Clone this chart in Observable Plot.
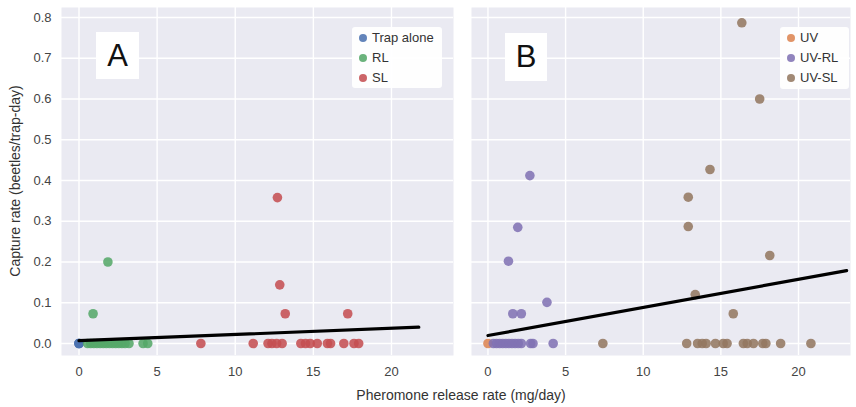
<!DOCTYPE html>
<html>
<head>
<meta charset="utf-8">
<script src="https://cdn.jsdelivr.net/npm/d3@7"></script>
<script src="https://cdn.jsdelivr.net/npm/@observablehq/plot@0.6"></script>
<style>
  body { margin: 0; background: #fff; font-family: "Liberation Sans", Arial, sans-serif; }
  #fig { position: relative; width: 856px; height: 407px; overflow: hidden; background: #fff; }
  .panel { position: absolute; top: 0; }
  .letter { position: absolute; background: #fff; font-size: 31px; color: #111;
            display: flex; align-items: center; justify-content: center; }
  .legend { position: absolute; background: rgba(255,255,255,0.92); border-radius: 3px;
            font-size: 13px; color: #333; }
  .legend .row { position: absolute; left: 0; height: 16px; line-height: 16px; white-space: nowrap; }
  .legend .dot { position: absolute; left: 7px; top: 4px; width: 8px; height: 8px; border-radius: 50%; }
  .legend .lab { position: absolute; left: 20px; top: 0; }
  .axlabel { position: absolute; font-size: 14px; color: #333; white-space: nowrap; }
</style>
</head>
<body>
<div id="fig"></div>
<script>
// ---------- data ----------
const xTicks = [0, 5, 10, 15, 20];
const yTicks = [0, 0.1, 0.2, 0.3, 0.4, 0.5, 0.6, 0.7, 0.8];
const yLabel = "Capture rate (beetles/trap-day)";
const xLabel = "Pheromone release rate (mg/day)";

// Panel A
const seriesA = ["Trap alone", "RL", "SL"];
const colorsA = ["#4C72B0", "#55A868", "#C44E52"];
const trapX = [0, 0, 0];
const trapY = [0, 0, 0];
const rlX = [0.55, 0.75, 0.95, 1.15, 1.35, 1.55, 1.75, 1.95, 2.15, 2.35, 2.55, 2.75, 2.95, 3.2, 4.1, 4.4, 0.9, 1.85];
const rlY = [0, 0, 0, 0, 0, 0, 0, 0, 0, 0, 0, 0, 0, 0, 0, 0, 0.073, 0.2];
const slX = [7.8, 11.15, 12.1, 12.35, 12.65, 13.0, 14.2, 14.5, 14.8, 15.25, 15.9, 16.1, 16.95, 17.6, 17.9, 12.7, 12.85, 13.2, 17.2];
const slY = [0, 0, 0, 0, 0, 0, 0, 0, 0, 0, 0, 0, 0, 0, 0, 0.358, 0.144, 0.073, 0.073];
const fitAX = [0, 21.75];
const fitAY = [0.007, 0.040];

// Panel B
const seriesB = ["UV", "UV-RL", "UV-SL"];
const colorsB = ["#DD8452", "#8172B3", "#937860"];
const uvX = [0];
const uvY = [0];
const uvrlX = [0.35, 0.55, 0.75, 0.95, 1.15, 1.35, 1.55, 1.75, 1.95, 2.15, 2.75, 2.9, 4.2, 2.7, 1.92, 1.32, 3.8, 1.6, 2.15];
const uvrlY = [0, 0, 0, 0, 0, 0, 0, 0, 0, 0, 0, 0, 0, 0.412, 0.285, 0.202, 0.101, 0.073, 0.073];
const uvslX = [7.4, 12.8, 13.5, 13.8, 14.05, 14.65, 15.15, 15.4, 16.45, 16.7, 17.1, 17.7, 17.9, 18.85, 20.8, 16.35, 17.5, 14.3, 12.9, 12.9, 18.15, 13.35, 15.8];
const uvslY = [0, 0, 0, 0, 0, 0, 0, 0, 0, 0, 0, 0, 0, 0, 0, 0.787, 0.6, 0.427, 0.359, 0.287, 0.216, 0.12, 0.073];
const fitBX = [0, 23.1];
const fitBY = [0.0196, 0.179];

// ---------- helpers ----------
function rows(xs, ys, group) { return xs.map((x, i) => ({x, y: ys[i], group})); }

const fig = document.getElementById("fig");
const yDomain = [-0.0294, 0.8245];

function makePanel({left, width, marginLeft, marginRight, xDomain, names, colors, data, fit, showY}) {
  const fitData = fit[0].map((x, i) => ({x, y: fit[1][i]}));
  const marks = [
    Plot.frame({fill: "#EAEAF2", stroke: null}),
    Plot.gridX(xTicks, {stroke: "#fff", strokeOpacity: 1, strokeWidth: 1.4}),
    Plot.gridY(yTicks, {stroke: "#fff", strokeOpacity: 1, strokeWidth: 1.4}),
    Plot.dot(data, {x: "x", y: "y", fill: "group", r: 4.8, fillOpacity: 0.87, stroke: null}),
    Plot.line(fitData, {x: "x", y: "y", stroke: "#000", strokeWidth: 3.2}),
    Plot.axisX(xTicks, {tickSize: 0, tickPadding: 11, fontSize: 13, fill: "#444", label: null})
  ];
  if (showY) marks.push(Plot.axisY(yTicks, {tickSize: 0, tickPadding: 10, fontSize: 13, fill: "#444", tickFormat: d3.format(".1f"), label: null}));
  const svg = Plot.plot({
    width, height: 407,
    marginLeft, marginRight, marginTop: 7, marginBottom: 52,
    style: {fontFamily: '"Liberation Sans", Arial, sans-serif', fontSize: "13px", background: "transparent"},
    x: {domain: xDomain, axis: null},
    y: {domain: yDomain, axis: null},
    color: {domain: names, range: colors},
    marks
  });
  svg.classList.add("panel");
  svg.style.left = left + "px";
  fig.appendChild(svg);
}

makePanel({
  left: 0, width: 456, marginLeft: 61, marginRight: 3,
  xDomain: [-1.12, 23.97],
  names: seriesA, colors: colorsA,
  data: [...rows(trapX, trapY, "Trap alone"), ...rows(rlX, rlY, "RL"), ...rows(slX, slY, "SL")],
  fit: [fitAX, fitAY], showY: true
});
makePanel({
  left: 456, width: 400, marginLeft: 15, marginRight: 6,
  xDomain: [-1.06, 23.35],
  names: seriesB, colors: colorsB,
  data: [...rows(uvX, uvY, "UV"), ...rows(uvrlX, uvrlY, "UV-RL"), ...rows(uvslX, uvslY, "UV-SL")],
  fit: [fitBX, fitBY], showY: false
});

// panel letters
function letter(txt, l, t, w, h) {
  const d = document.createElement("div");
  d.className = "letter";
  d.textContent = txt;
  Object.assign(d.style, {left: l + "px", top: t + "px", width: w + "px", height: h + "px"});
  fig.appendChild(d);
}
letter("A", 96, 32, 43, 47);
letter("B", 505, 33, 42, 48);

// legends
function legend(names, colors, l, t, w, h) {
  const box = document.createElement("div");
  box.className = "legend";
  Object.assign(box.style, {left: l + "px", top: t + "px", width: w + "px", height: h + "px"});
  names.forEach((n, i) => {
    const r = document.createElement("div");
    r.className = "row";
    r.style.top = (3 + i * 20) + "px";
    r.innerHTML = `<span class="dot" style="background:${colors[i]};opacity:0.87"></span><span class="lab">${n}</span>`;
    box.appendChild(r);
  });
  fig.appendChild(box);
}
legend(seriesA, colorsA, 352, 27, 90, 61);
legend(seriesB, colorsB, 780, 27, 69, 62);

// axis labels
const xl = document.createElement("div");
xl.className = "axlabel";
xl.textContent = xLabel;
Object.assign(xl.style, {left: "461px", top: "395px", transform: "translate(-50%,-50%)"});
fig.appendChild(xl);

const yl = document.createElement("div");
yl.className = "axlabel";
yl.textContent = yLabel;
Object.assign(yl.style, {left: "15px", top: "181px", transform: "translate(-50%,-50%) rotate(-90deg)"});
fig.appendChild(yl);
</script>
</body>
</html>
